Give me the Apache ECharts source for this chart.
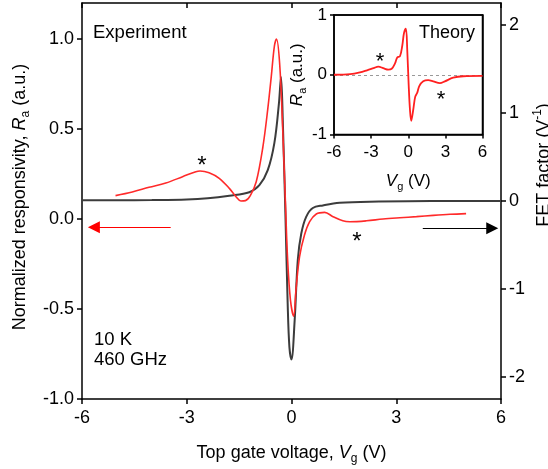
<!DOCTYPE html>
<html>
<head>
<meta charset="utf-8">
<script src="https://cdn.jsdelivr.net/npm/echarts@6/dist/echarts.min.js"></script>
<style>
  html, body { margin: 0; padding: 0; background: #fff; }
  #chart { width: 548px; height: 469px; }
</style>
</head>
<body>
<div id="chart"></div>
<script>
// experiment, responsivity (left axis)
var expVg = [-5.04, -4.56, -4.08, -3.6, -3.12, -2.74, -2.62, -2.36, -2.07, -1.78, -1.59, -1.45, -1.32, -1.18, -1.01, -0.82, -0.68, -0.58, -0.49, -0.43, -0.34, -0.25, -0.17, -0.11, -0.03, 0.06, 0.13, 0.23, 0.37, 0.52, 0.71, 0.95, 1.19, 1.47, 1.67, 2.15, 2.62, 3.1, 3.58, 4.06, 4.54, 5.0];
var expRa = [0.13, 0.15, 0.176, 0.2, 0.235, 0.263, 0.267, 0.257, 0.226, 0.17, 0.124, 0.1, 0.102, 0.13, 0.207, 0.4, 0.61, 0.79, 0.96, 1.0, 0.865, 0.49, 0.07, -0.23, -0.45, -0.54, -0.39, -0.21, -0.09, -0.015, 0.028, 0.037, 0.013, -0.01, -0.015, -0.01, 0.0, 0.007, 0.013, 0.02, 0.026, 0.03];

// FET factor (right axis)
var fetVg = [-6, -5, -4, -3, -2.4, -1.78, -1.21, -0.92, -0.68, -0.49, -0.36, -0.3, -0.25, -0.17, -0.11, -0.06, 0, 0.09, 0.18, 0.28, 0.42, 0.61, 0.9, 1.38, 2.5, 4, 6];
var fetFactor = [0.008, 0.008, 0.01, 0.016, 0.03, 0.06, 0.1, 0.18, 0.35, 0.66, 1.11, 1.41, 0.92, -0.22, -1.16, -1.66, -1.8, -1.36, -0.67, -0.37, -0.18, -0.08, -0.05, -0.02, -0.007, 0, 0];

// theory inset
var thVg = [-6, -4.7, -3.9, -3.33, -2.8, -2.42, -2.02, -1.61, -1.34, -1.07, -0.89, -0.67, -0.48, -0.35, -0.19, -0.08, 0.03, 0.14, 0.24, 0.4, 0.56, 0.73, 0.89, 1.21, 1.61, 2.02, 2.56, 2.96, 3.63, 4.44, 6];
var thRa = [0, 0.01, 0.04, 0.075, 0.11, 0.135, 0.11, 0.085, 0.1, 0.19, 0.29, 0.31, 0.49, 0.69, 0.77, 0.41, -0.15, -0.59, -0.77, -0.59, -0.37, -0.3, -0.19, -0.11, -0.09, -0.11, -0.14, -0.11, -0.05, -0.025, -0.02];

var leftTicks = [-1, -0.5, 0, 0.5, 1];
var rightTicks = [-2, -1, 0, 1, 2];

function zip(a, b) {
  return a.map(function (v, i) { return [v, b[i]]; });
}

var FONT = 'Liberation Sans, Arial, sans-serif';
var AX = { color: '#000', width: 1.5 };
var rich = {
  it: { fontStyle: 'italic', fontSize: 18, lineHeight: 24, fontFamily: FONT, color: '#000' },
  sub: { fontSize: 12, lineHeight: 12, verticalAlign: 'bottom', fontFamily: FONT, color: '#000' },
  sup: { fontSize: 12, lineHeight: 12, verticalAlign: 'top', fontFamily: FONT, color: '#000' }
};
var nameStyle = { fontSize: 18, lineHeight: 24, fontFamily: FONT, color: '#000', rich: rich };
var insetRich = {
  it: { fontStyle: 'italic', fontSize: 17, lineHeight: 22, fontFamily: FONT, color: '#000' },
  sub: { fontSize: 11, lineHeight: 11, verticalAlign: 'bottom', fontFamily: FONT, color: '#000' }
};
var insetNameStyle = { fontSize: 17, lineHeight: 22, fontFamily: FONT, color: '#000', rich: insetRich };
var lbl = { color: '#000', fontSize: 18, fontFamily: FONT };
var insetLbl = { color: '#000', fontSize: 17, fontFamily: FONT };

function line(extra) {
  return Object.assign({ onZero: false, lineStyle: AX }, extra || {});
}

function txt(x, y, s, size, align) {
  return {
    type: 'text', x: x, y: y, z: 100,
    style: { text: s, fill: '#000', font: size + 'px ' + FONT, textAlign: align || 'left', textVerticalAlign: 'middle' }
  };
}

var chart = echarts.init(document.getElementById('chart'));
chart.setOption({
  animation: false,
  backgroundColor: '#fff',
  grid: [
    { left: 82, top: 3, width: 419, height: 396, outerBoundsMode: 'none', containLabel: false },
    { left: 334, top: 15, width: 148.5, height: 119.5, outerBoundsMode: 'none', containLabel: false,
      show: true, backgroundColor: '#fff', borderColor: '#000', borderWidth: 1.5, z: 5 }
  ],
  xAxis: [
    {
      gridIndex: 0, type: 'value', min: -6, max: 6, interval: 3, position: 'bottom',
      axisLine: line(), axisTick: { length: 5, lineStyle: AX },
      axisLabel: Object.assign({ margin: 10 }, lbl), splitLine: { show: false },
      name: 'Top gate voltage, {it|V}{sub|g} (V)', nameLocation: 'middle', nameGap: 42, nameTextStyle: nameStyle
    },
    {
      gridIndex: 0, type: 'value', min: -6, max: 6, interval: 3, position: 'top',
      axisLine: line(), axisTick: { inside: true, length: 5, lineStyle: AX },
      axisLabel: { show: false }, splitLine: { show: false }
    },
    {
      gridIndex: 1, type: 'value', min: -6, max: 6, interval: 3, position: 'bottom', z: 6,
      axisLine: line(), axisTick: { length: 4, lineStyle: AX },
      axisLabel: Object.assign({ margin: 9 }, insetLbl), splitLine: { show: false },
      name: '{it|V}{sub|g} (V)', nameLocation: 'middle', nameGap: 36, nameTextStyle: insetNameStyle
    },
    {
      gridIndex: 1, type: 'value', min: -6, max: 6, position: 'top', z: 6,
      axisLine: line(), axisTick: { show: false }, axisLabel: { show: false }, splitLine: { show: false }
    }
  ],
  yAxis: [
    {
      gridIndex: 0, type: 'value', min: -1, max: 1.2, position: 'left',
      axisLine: line(),
      axisTick: { length: 5, lineStyle: AX, customValues: leftTicks },
      axisLabel: Object.assign({ margin: 8, customValues: leftTicks, formatter: function (v) { return v.toFixed(1); } }, lbl),
      splitLine: { show: false },
      name: 'Normalized responsivity, {it|R}{sub|a} (a.u.)', nameLocation: 'middle', nameRotate: 90, nameGap: 50,
      nameTextStyle: Object.assign({ padding: [0, 0, 0, 8] }, nameStyle)
    },
    {
      gridIndex: 0, type: 'value', min: -2.25, max: 2.25, position: 'right',
      axisLine: line(),
      axisTick: { length: 5, lineStyle: AX, customValues: rightTicks },
      axisLabel: Object.assign({ margin: 8, customValues: rightTicks }, lbl),
      splitLine: { show: false },
      name: 'FET factor (V{sup|-1})', nameLocation: 'middle', nameRotate: 90, nameGap: 31, nameMoveOverlap: false,
      nameTextStyle: Object.assign({ padding: [0, 0, 0, 72] }, nameStyle)
    },
    {
      gridIndex: 1, type: 'value', min: -1, max: 1, interval: 1, position: 'left', z: 6,
      axisLine: line(), axisTick: { length: 4, lineStyle: AX },
      axisLabel: Object.assign({ margin: 7 }, insetLbl), splitLine: { show: false },
      name: '{it|R}{sub|a} (a.u.)', nameLocation: 'middle', nameRotate: 90, nameGap: 26, nameTextStyle: insetNameStyle
    },
    {
      gridIndex: 1, type: 'value', min: -1, max: 1, position: 'right', z: 6,
      axisLine: line(), axisTick: { show: false }, axisLabel: { show: false }, splitLine: { show: false }
    }
  ],
  series: [
    {
      type: 'line', xAxisIndex: 0, yAxisIndex: 1, data: zip(fetVg, fetFactor),
      showSymbol: false, smooth: 0.35,
      lineStyle: { color: '#3c3c3c', width: 2 }, itemStyle: { color: '#3c3c3c' },
      markLine: {
        silent: true, symbol: ['none', 'triangle'], symbolSize: 12, label: { show: false },
        lineStyle: { color: '#000', width: 1, type: 'solid' }, itemStyle: { color: '#000' },
        data: [[{ coord: [3.76, -0.31] }, { coord: [5.75, -0.31] }]]
      }
    },
    {
      type: 'line', xAxisIndex: 0, yAxisIndex: 0, data: zip(expVg, expRa),
      showSymbol: false, smooth: 0.35,
      lineStyle: { color: '#ff2a2a', width: 1.6 }, itemStyle: { color: '#ff2a2a' },
      markLine: {
        silent: true, symbol: ['none', 'triangle'], symbolSize: 12, label: { show: false },
        lineStyle: { color: '#ff0000', width: 1, type: 'solid' }, itemStyle: { color: '#ff0000' },
        data: [[{ coord: [-3.46, -0.046] }, { coord: [-5.66, -0.046] }]]
      }
    },
    {
      type: 'line', xAxisIndex: 2, yAxisIndex: 2, data: zip(thVg, thRa), z: 7,
      showSymbol: false, smooth: 0.35,
      lineStyle: { color: '#ff2020', width: 1.8 }, itemStyle: { color: '#ff2020' },
      markLine: {
        silent: true, symbol: 'none', label: { show: false },
        lineStyle: { color: '#999', width: 1, type: [3, 3] },
        data: [{ yAxis: 0 }]
      }
    }
  ],
  graphic: [
    txt(93, 33, 'Experiment', 18.5),
    txt(94, 340, '10 K', 18.5),
    txt(94, 360, '460 GHz', 18.5),
    txt(475, 33, 'Theory', 18, 'right'),
    txt(202, 166, '*', 24, 'center'),
    txt(357, 242, '*', 24, 'center'),
    txt(380, 62, '*', 22, 'center'),
    txt(441, 100, '*', 22, 'center')
  ]
});
</script>
</body>
</html>
